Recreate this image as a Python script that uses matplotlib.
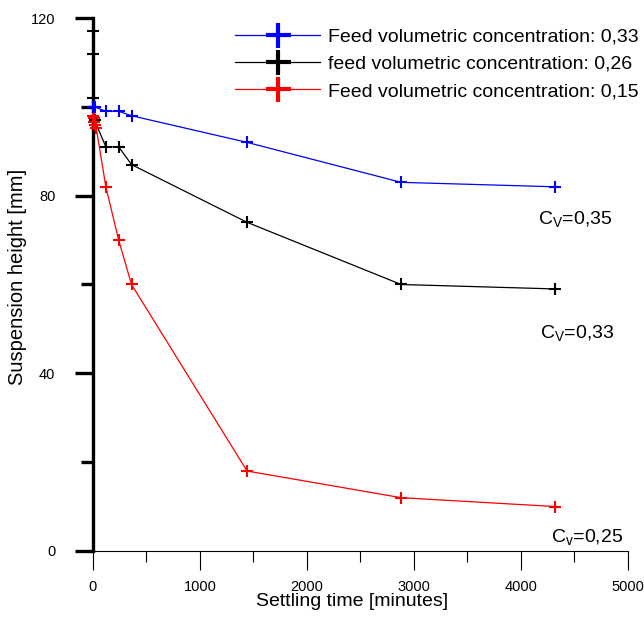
import matplotlib
matplotlib.use('Agg')
from matplotlib import pyplot as plt
from matplotlib.lines import Line2D
from matplotlib.ticker import MultipleLocator

plt.rcParams['font.family'] = ['Liberation Sans', 'DejaVu Sans']

# settling test readings: time [min] vs interface height [mm]
t_033 = [0, 15, 120, 240, 360, 1440, 2880, 4320]
h_033 = [100, 100, 99, 99, 98, 92, 83, 82]

t_026 = [0, 0, 0, 0, 15, 120, 240, 360, 1440, 2880, 4320]
h_026 = [117, 112, 102, 100, 97, 91, 91, 87, 74, 60, 59]

t_015 = [0, 5, 10, 20, 30, 120, 240, 360, 1440, 2880, 4320]
h_015 = [98, 97.5, 96.6, 96, 95.3, 82, 70, 60, 18, 12, 10]

labels = ['Feed volumetric concentration: 0,33',
          'feed volumetric concentration: 0,26',
          'Feed volumetric concentration: 0,15']
colors = ['blue', 'black', 'red']

notes = [r'C$_\mathregular{V}$=0,35', r'C$_\mathregular{V}$=0,33', r'C$_\mathregular{v}$=0,25']
note_x = [4160, 4180, 4280]
note_y = [74.5, 49, 3]

fig = plt.figure(figsize=(6.44, 6.17), dpi=100)
ax = fig.add_axes([0.1444, 0.107, 0.8307, 0.8638])

series = [(t_033, h_033), (t_026, h_026), (t_015, h_015)]
zord = [5, 3, 4]
for (t, h), c, z in zip(series, colors, zord):
    ax.plot(t, h, color=c, lw=0.9, marker='+', ms=8, mew=1.5,
            clip_on=False, zorder=z)

for s, x, y in zip(notes, note_x, note_y):
    ax.text(x, y, s, fontsize=14, va='center', ha='left')

ax.set_xlim(0, 5000)
ax.set_ylim(0, 120)
ax.xaxis.set_major_locator(MultipleLocator(1000))
ax.xaxis.set_minor_locator(MultipleLocator(500))
ax.yaxis.set_major_locator(MultipleLocator(40))
ax.yaxis.set_minor_locator(MultipleLocator(20))

for side in ['top', 'right']:
    ax.spines[side].set_visible(False)
ax.spines['left'].set_linewidth(2.4)
ax.spines['bottom'].set_linewidth(0.8)

ax.tick_params(axis='x', which='major', direction='out', length=14, width=0.8,
               pad=7, labelsize=10.5)
ax.tick_params(axis='x', which='minor', direction='out', length=8, width=0.8)
ax.tick_params(axis='y', which='major', direction='out', length=13, width=2.4,
               pad=14, labelsize=10.5)
ax.tick_params(axis='y', which='minor', direction='out', length=9, width=2.4)

ax.set_xlabel('Settling time [minutes]', fontsize=14)
ax.set_ylabel('Suspension height [mm]', fontsize=14.5)
ax.xaxis.set_label_coords(0.485, -0.079)
ax.yaxis.set_label_coords(-0.124, 0.514)

handles = [Line2D([], [], color=c, lw=0.9, marker='+', ms=18, mew=3)
           for c in colors]
fig.legend(handles, labels, loc='upper left', bbox_to_anchor=(0.365, 0.955),
           frameon=False, fontsize=14, borderpad=0, borderaxespad=0,
           handlelength=4.38, handletextpad=0.41, labelspacing=0.5)

fig.savefig('out.png', dpi=100)
